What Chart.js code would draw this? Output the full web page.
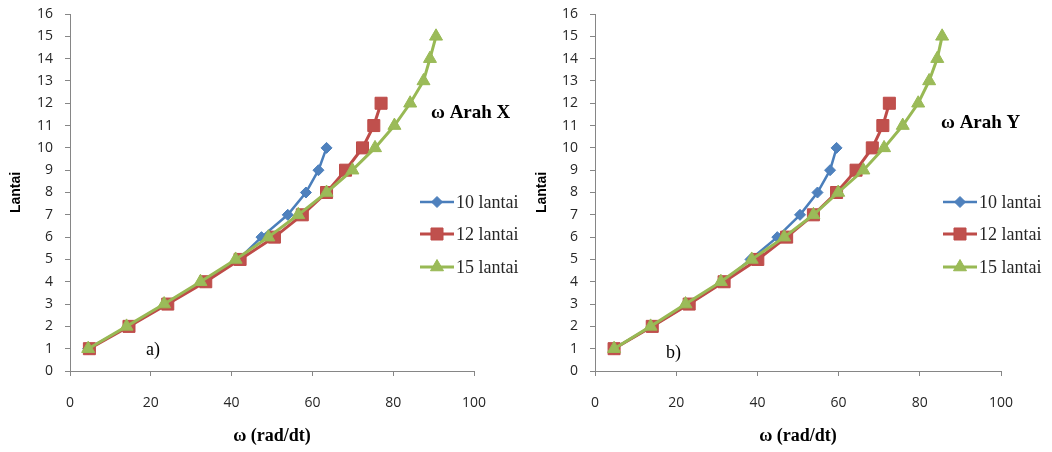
<!DOCTYPE html>
<html>
<head>
<meta charset="utf-8">
<script src="https://cdn.jsdelivr.net/npm/chart.js@4.4.1/dist/chart.umd.min.js"></script>
<style>
  html, body { margin: 0; padding: 0; background: #ffffff; }
  #wrap { position: relative; width: 1052px; height: 452px; overflow: hidden; }
  .panel { position: absolute; top: 0; width: 526px; height: 452px; }
</style>
</head>
<body>
<div id="wrap">
  <div class="panel" style="left:0"><canvas id="chartX" width="526" height="452"></canvas></div>
  <div class="panel" style="left:526px"><canvas id="chartY" width="526" height="452"></canvas></div>
</div>
<script>
// Floor numbers for each building height
const floors10 = [1, 2, 3, 4, 5, 6, 7, 8, 9, 10];
const floors12 = [1, 2, 3, 4, 5, 6, 7, 8, 9, 10, 11, 12];
const floors15 = [1, 2, 3, 4, 5, 6, 7, 8, 9, 10, 11, 12, 13, 14, 15];

// Natural frequency ω (rad/dt) per mode, X direction
const omegaX10 = [4.5, 14.4, 23.9, 33.2, 41.7, 47.4, 53.9, 58.4, 61.5, 63.5];
const omegaX12 = [4.8, 14.6, 24.2, 33.6, 42.1, 50.6, 57.5, 63.5, 68.2, 72.4, 75.2, 77.0];
const omegaX15 = [4.5, 14.0, 23.3, 32.3, 41.0, 49.1, 56.5, 63.5, 69.9, 75.5, 80.3, 84.2, 87.5, 89.1, 90.6];

// Natural frequency ω (rad/dt) per mode, Y direction
const omegaY10 = [4.7, 14.0, 23.0, 31.6, 38.3, 44.9, 50.5, 54.8, 57.9, 59.5];
const omegaY12 = [4.7, 14.1, 23.2, 31.8, 40.1, 47.2, 53.8, 59.5, 64.3, 68.3, 70.9, 72.5];
const omegaY15 = [4.7, 13.7, 22.3, 31.0, 38.6, 46.6, 53.8, 59.9, 66.1, 71.2, 75.8, 79.6, 82.3, 84.3, 85.5];

// Axis ranges and tick steps
const xRange = [0, 100];
const xStep = 20;
const yRange = [0, 16];
const yStep = 1;

const seriesNames = ['10 lantai', '12 lantai', '15 lantai'];
const axisTitleX = 'ω (rad/dt)';
const axisTitleY = 'Lantai';

const styles = [
  { line: '#4A7EBB', fill: '#4F81BD', point: 'rectRot', radius: 5.5, width: 2.5, order: 3 },
  { line: '#BE4B48', fill: '#C0504D', point: 'rect', radius: 8.5, width: 3, order: 2 },
  { line: '#98B954', fill: '#9BBB59', point: 'triangle', radius: 7.5, width: 3, order: 1 }
];

const AXIS_GREY = '#868686';
const TEXT_COLOR = '#262626';

function toPoints(xs, ys) {
  return xs.map((x, i) => ({ x: x, y: ys[i] }));
}

function makeDatasets(series) {
  return series.map((s, i) => ({
    label: seriesNames[i],
    data: toPoints(s.x, s.y),
    borderColor: styles[i].line,
    backgroundColor: styles[i].fill,
    pointBackgroundColor: styles[i].fill,
    pointBorderColor: styles[i].line,
    pointBorderWidth: 1,
    pointStyle: styles[i].point,
    pointRadius: styles[i].radius,
    pointHoverRadius: styles[i].radius,
    borderWidth: styles[i].width,
    tension: 0,
    showLine: true,
    fill: false,
    order: styles[i].order
  }));
}

// Simple marker painter for the legend keys
function paintMarker(ctx, style, x, y, r, fill, stroke) {
  ctx.beginPath();
  if (style === 'rect') {
    const s = Math.SQRT1_2 * r;
    ctx.rect(x - s, y - s, 2 * s, 2 * s);
  } else if (style === 'rectRot') {
    ctx.moveTo(x, y - r);
    ctx.lineTo(x + r, y);
    ctx.lineTo(x, y + r);
    ctx.lineTo(x - r, y);
    ctx.closePath();
  } else if (style === 'triangle') {
    const dx = Math.sin(2 * Math.PI / 3) * r;
    const dy = -Math.cos(2 * Math.PI / 3) * r;
    ctx.moveTo(x, y - r);
    ctx.lineTo(x + dx, y + dy);
    ctx.lineTo(x - dx, y + dy);
    ctx.closePath();
  }
  ctx.fillStyle = fill;
  ctx.fill();
  ctx.lineWidth = 1;
  ctx.strokeStyle = stroke;
  ctx.stroke();
}

// Heading, panel tag and legend drawn over the plot
const notesPlugin = {
  id: 'notes',
  afterDraw(chart, args, opts) {
    const ctx = chart.ctx;
    ctx.save();
    ctx.textBaseline = 'middle';
    ctx.textAlign = 'left';
    ctx.fillStyle = '#000';
    ctx.font = 'bold 19px "Liberation Serif", "Times New Roman", serif';
    ctx.fillText(opts.heading, opts.headingX, opts.headingY);
    ctx.font = '18px "Liberation Serif", "Times New Roman", serif';
    ctx.fillText(opts.tag, opts.tagX, opts.tagY);

    const rows = opts.legendRows;
    chart.data.datasets.forEach((ds, i) => {
      const y = rows[i];
      const x1 = opts.legendX;
      const x2 = opts.legendX + 34;
      ctx.beginPath();
      ctx.moveTo(x1, y);
      ctx.lineTo(x2, y);
      ctx.lineWidth = ds.borderWidth;
      ctx.strokeStyle = ds.borderColor;
      ctx.stroke();
      paintMarker(ctx, ds.pointStyle, (x1 + x2) / 2, y, ds.pointRadius, ds.pointBackgroundColor, ds.pointBorderColor);
      ctx.fillStyle = TEXT_COLOR;
      ctx.font = '18px "Liberation Serif", "Times New Roman", serif';
      ctx.fillText(ds.label, x2 + 2, y + 1);
    });
    ctx.restore();
  }
};

function buildChart(id, series, notes, plotLeft, plotRight) {
  const canvas = document.getElementById(id);
  return new Chart(canvas, {
    type: 'scatter',
    data: { datasets: makeDatasets(series) },
    plugins: [notesPlugin],
    options: {
      responsive: false,
      animation: false,
      events: [],
      layout: { padding: { left: 0, right: 526 - plotRight, top: 14, bottom: 0 } },
      plugins: {
        legend: { display: false },
        tooltip: { enabled: false },
        notes: notes
      },
      scales: {
        x: {
          type: 'linear',
          min: xRange[0],
          max: xRange[1],
          afterFit(scale) { scale.height = 81; },
          ticks: {
            stepSize: xStep,
            padding: 19,
            color: TEXT_COLOR,
            font: { family: '"Open Sans", "Liberation Sans", sans-serif', size: 14 }
          },
          grid: { drawOnChartArea: false, drawTicks: true, tickLength: 5, tickColor: AXIS_GREY, lineWidth: 1 },
          border: { display: true, color: AXIS_GREY, width: 1 },
          title: {
            display: true,
            text: axisTitleX,
            color: '#000',
            font: { family: '"Liberation Serif", "Times New Roman", serif', size: 18, weight: 'bold' },
            padding: { top: 0, bottom: 5 }
          }
        },
        y: {
          type: 'linear',
          min: yRange[0],
          max: yRange[1],
          afterFit(scale) {
            scale.width = plotLeft;
            scale.paddingTop = 0;
            scale.paddingBottom = 0;
          },
          ticks: {
            stepSize: yStep,
            padding: 12,
            color: TEXT_COLOR,
            font: { family: '"Open Sans", "Liberation Sans", sans-serif', size: 14 }
          },
          grid: { drawOnChartArea: false, drawTicks: true, tickLength: 5, tickColor: AXIS_GREY, lineWidth: 1 },
          border: { display: true, color: AXIS_GREY, width: 1 },
          title: {
            display: true,
            text: axisTitleY,
            color: '#000',
            font: { family: '"Liberation Sans", Arial, sans-serif', size: 14, weight: 'bold' },
            padding: { top: 8, bottom: 0 }
          }
        }
      }
    }
  });
}

buildChart('chartX', [
  { x: omegaX10, y: floors10 },
  { x: omegaX12, y: floors12 },
  { x: omegaX15, y: floors15 }
], {
  heading: 'ω Arah X', headingX: 431, headingY: 113,
  tag: 'a)', tagX: 146, tagY: 350,
  legendX: 420, legendRows: [202, 234, 267]
}, 70, 474);

buildChart('chartY', [
  { x: omegaY10, y: floors10 },
  { x: omegaY12, y: floors12 },
  { x: omegaY15, y: floors15 }
], {
  heading: 'ω Arah Y', headingX: 415, headingY: 123,
  tag: 'b)', tagX: 140, tagY: 353,
  legendX: 417, legendRows: [202, 234, 267]
}, 69, 475);
</script>
</body>
</html>
